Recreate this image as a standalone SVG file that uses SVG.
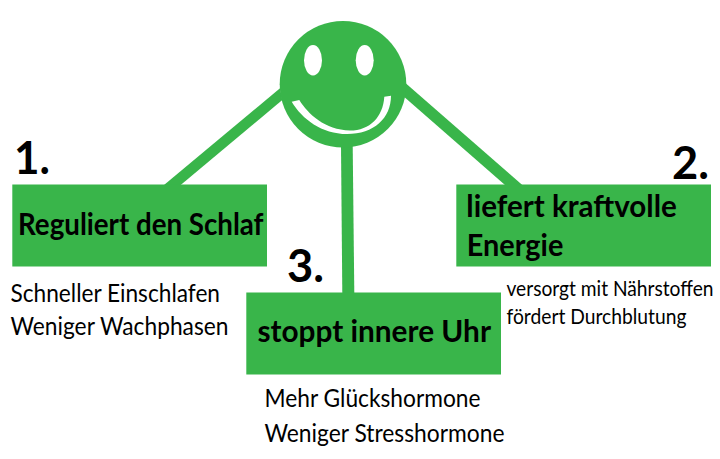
<svg xmlns="http://www.w3.org/2000/svg" width="720" height="459" viewBox="0 0 720 459">
<style>
text{font-family:"Lato","Open Sans","Liberation Sans",sans-serif;fill:#000}
.g{fill:#39b54a}
.num{font-size:45px;font-weight:700}
.head{font-size:31px;font-weight:700}
.sub{font-size:25px}
.sm{font-size:21.5px}
</style>
<rect width="720" height="459" fill="#fff"/>
<g id="connectors" class="g">
<polygon points="280,88.3 282.3,100 180.7,185 164,185"/>
<polygon points="405.7,83.3 522.3,185 505,185 404,96.7"/>
<polygon points="341,146 352.7,146 354.3,293 342.3,293"/>
</g>
<g id="face">
<circle class="g" cx="343" cy="84.2" r="63.3"/>
<ellipse cx="313" cy="60.3" rx="9" ry="15.3" fill="#fff"/>
<ellipse cx="364.7" cy="60.3" rx="9" ry="15.3" fill="#fff"/>
<path d="M291.7,101.7 L299.3,100 C308,114 325,130 350,130.5 C370,130.5 383,117 384.3,96.7 L391,95.7 C391,118 374,134 347,134 C322,134 302,119 291.7,101.7 Z" fill="#fff"/>
</g>
<g id="node-1">
<text class="num" x="14" y="174" textLength="36" lengthAdjust="spacingAndGlyphs">1.</text>
<rect class="g" x="12.3" y="184.5" width="254.7" height="82"/>
<text class="head" x="18" y="235.3" textLength="245.5" lengthAdjust="spacingAndGlyphs">Reguliert den Schlaf</text>
<text class="sub" x="10.5" y="301.7" textLength="209.5" lengthAdjust="spacingAndGlyphs">Schneller Einschlafen</text>
<text class="sub" x="10.5" y="335" textLength="218" lengthAdjust="spacingAndGlyphs">Weniger Wachphasen</text>
</g>
<g id="node-2">
<text class="num" x="672" y="179.3" textLength="37" lengthAdjust="spacingAndGlyphs">2.</text>
<rect class="g" x="456.3" y="184.5" width="254.7" height="82"/>
<text class="head" x="466.3" y="216.7" textLength="210.5" lengthAdjust="spacingAndGlyphs">liefert kraftvolle</text>
<text class="head" x="466.8" y="256" textLength="96.5" lengthAdjust="spacingAndGlyphs">Energie</text>
<text class="sm" transform="translate(506.5 295.7) scale(.9 1)" textLength="230" lengthAdjust="spacingAndGlyphs">versorgt mit Nährstoffen</text>
<text class="sm" x="506.5" y="324.3" textLength="180" lengthAdjust="spacingAndGlyphs">fördert Durchblutung</text>
</g>
<g id="node-3">
<text class="num" x="287" y="282.3" textLength="37" lengthAdjust="spacingAndGlyphs">3.</text>
<rect class="g" x="246.3" y="292.5" width="254.7" height="82"/>
<text class="head" x="257.5" y="342.3" textLength="233.5" lengthAdjust="spacingAndGlyphs">stoppt innere Uhr</text>
<text class="sub" x="264.5" y="406.7" textLength="216" lengthAdjust="spacingAndGlyphs">Mehr Glückshormone</text>
<text class="sub" x="264.5" y="441.7" textLength="240" lengthAdjust="spacingAndGlyphs">Weniger Stresshormone</text>
</g>
</svg>
